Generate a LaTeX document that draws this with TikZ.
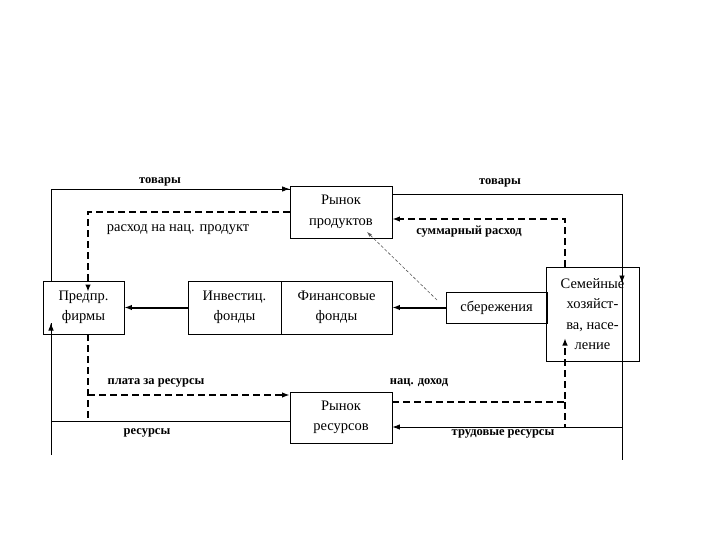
\documentclass[tikz,border=0pt]{standalone}
\usepackage{fontspec}
\setmainfont{Liberation Serif}
\usetikzlibrary{arrows.meta}
\tikzset{
  box/.style={draw,line width=0.8pt,align=center,inner sep=0pt,font=\fontsize{14.5}{20.5}\selectfont},
  lbl/.style={inner sep=1pt,font=\bfseries\fontsize{12.5}{14}\selectfont},
  tip/.style={-{Latex[length=7.5pt,width=5.5pt]}},
  thinln/.style={line width=0.8pt},
  thickln/.style={line width=2pt},
  dashln/.style={line width=2pt,dash pattern=on 7pt off 4pt},
  hintln/.style={line width=0.6pt,gray!70!black,dash pattern=on 3pt off 2pt}
}
\begin{document}
\begin{tikzpicture}[x=1pt,y=-1pt]
\fill[white](0,0)rectangle(720,540);
\useasboundingbox(0,0)rectangle(720,540);
% markets, firms, funds, households
\node[box,minimum width=102,minimum height=52](prod)at(341,212){Рынок\\продуктов};
\node[box,minimum width=102,minimum height=51](res)at(341,417.5){Рынок\\ресурсов};
\node[box,minimum width=81,minimum height=53](firm)at(83.5,307.5){Предпр.\\фирмы};
\node[box,minimum width=93,minimum height=53](inv)at(234.5,307.5){Инвестиц.\\фонды};
\node[box,minimum width=111,minimum height=53](fin)at(336.5,307.5){Финансовые\\фонды};
\node[box,minimum width=101,minimum height=31](sav)at(496.5,307.5){сбережения};
\node[box,minimum width=93,minimum height=94](hh)at(592.5,314){Семейные\\хозяйст-\\ва, насе-\\ление};
% corners of the flows
\coordinate(lt)at(51,189);\coordinate(lb)at(51,455);\coordinate(lr)at(51,421);
\coordinate(rt)at(622,194);\coordinate(rb)at(622,460);\coordinate(rr)at(622,427);
\coordinate(dlt)at(88,212);\coordinate(dlb)at(88,421);\coordinate(dlr)at(88,395);
\coordinate(drt)at(565,219);\coordinate(drb)at(565,427);\coordinate(drr)at(565,402);
\coordinate(hs)at(437,300);
% real flows
\draw[thinln](firm.north-|lt)--(lt)--(lt-|prod.west);
\draw[thinln,tip](lt)--(lt-|prod.west);
\draw[thinln](lb)--(51,323);
\draw[thinln,tip](lr)--(51,323);
\draw[thinln](lr)--(lr-|res.west);
\draw[thinln](rt-|prod.east)--(rt)--(rb);
\draw[thinln,tip](rt)--(622,283);
\draw[thinln,tip](rr)--(rr-|res.east);
\draw[thickln,tip](sav.west)--(fin.east);
\draw[thickln,tip](inv.west)--(firm.east);
% money flows
\draw[dashln,tip](prod.west|-dlt)--(dlt)--(88,292);
\draw[dashln](firm.south-|dlb)--(dlb);
\draw[dashln,tip](dlr)--(dlr-|res.west);
\draw[dashln,tip](res.east|-drr)--(drr)--(565,338);
\draw[dashln](drr)--(drb);
\draw[dashln,tip](hh.north-|drt)--(drt)--(drt-|prod.east);
\draw[hintln,-{Latex[length=5pt,width=3.5pt]}](hs)--(367,232);
% labels
\foreach \lx/\ly/\lb [count=\i] in {160/182/товары,500/183/товары,469/232/суммарный расход,156/383/плата за ресурсы,419/383/нац. доход,147/433/ресурсы,503/434/трудовые ресурсы}{\node[lbl](lab\i)at(\lx,\ly){\lb};}
\node[inner sep=1pt,font=\fontsize{14.5}{16}\selectfont](labsp)at(178,230){расход на нац. продукт};
\end{tikzpicture}
\end{document}
